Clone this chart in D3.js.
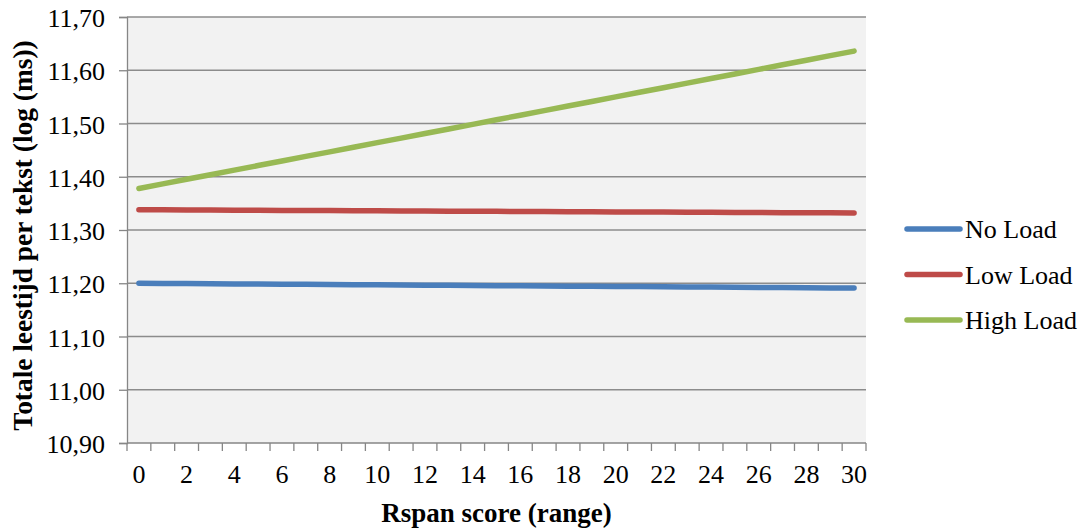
<!DOCTYPE html>
<html>
<head>
<meta charset="utf-8">
<script src="https://cdn.jsdelivr.net/npm/d3@7/dist/d3.min.js"></script>
<style>
  html, body { margin: 0; padding: 0; background: #fff; }
  svg { display: block; }
  text { font-family: "Liberation Serif", "Times New Roman", serif; fill: #000; }
</style>
</head>
<body>
<svg id="chart" width="1083" height="529"></svg>
<script>
// Rspan score categories 0..30
const categories = d3.range(0, 31);
const xTickLabels = [0, 2, 4, 6, 8, 10, 12, 14, 16, 18, 20, 22, 24, 26, 28, 30];
const yTicks = [10.90, 11.00, 11.10, 11.20, 11.30, 11.40, 11.50, 11.60, 11.70];

const noLoad = [11.2000, 11.1997, 11.1994, 11.1991, 11.1988, 11.1985, 11.1982, 11.1979, 11.1976, 11.1973,
  11.1970, 11.1967, 11.1964, 11.1961, 11.1958, 11.1955, 11.1952, 11.1949, 11.1946, 11.1943,
  11.1940, 11.1937, 11.1934, 11.1931, 11.1928, 11.1925, 11.1922, 11.1919, 11.1916, 11.1913, 11.1910];
const lowLoad = [11.3380, 11.3378, 11.3376, 11.3374, 11.3372, 11.3370, 11.3368, 11.3366, 11.3364, 11.3362,
  11.3360, 11.3358, 11.3356, 11.3354, 11.3352, 11.3350, 11.3348, 11.3346, 11.3344, 11.3342,
  11.3340, 11.3338, 11.3336, 11.3334, 11.3332, 11.3330, 11.3328, 11.3326, 11.3324, 11.3322, 11.3320];
const highLoad = [11.3780, 11.3866, 11.3952, 11.4038, 11.4124, 11.4210, 11.4296, 11.4382, 11.4468, 11.4554,
  11.4640, 11.4726, 11.4812, 11.4898, 11.4984, 11.5070, 11.5156, 11.5242, 11.5328, 11.5414,
  11.5500, 11.5586, 11.5672, 11.5758, 11.5844, 11.5930, 11.6016, 11.6102, 11.6188, 11.6274, 11.6360];

const seriesNames = ["No Load", "Low Load", "High Load"];
const seriesColors = ["#4a7ebb", "#be4b48", "#98b954"];
const seriesValues = [noLoad, lowLoad, highLoad];

const svg = d3.select("#chart");
const plot = { left: 127, right: 866, top: 17, bottom: 443 };

const x = d3.scaleBand().domain(categories).range([plot.left, plot.right]).padding(0);
const y = d3.scaleLinear().domain([10.90, 11.70]).range([plot.bottom, plot.top]);

// plot background
svg.append("rect")
  .attr("x", plot.left).attr("y", plot.top)
  .attr("width", plot.right - plot.left).attr("height", plot.bottom - plot.top)
  .attr("fill", "#f2f2f2");

// horizontal gridlines
svg.append("g").selectAll("line").data(yTicks.slice(1)).join("line")
  .attr("x1", plot.left).attr("x2", plot.right)
  .attr("y1", d => y(d)).attr("y2", d => y(d))
  .attr("stroke", "#8c8c8c").attr("stroke-width", 1.3);

// y axis
const fmt = d => d3.format(".2f")(d).replace(".", ",");
const yAxis = svg.append("g")
  .attr("transform", `translate(${plot.left},0)`)
  .attr("font-family", null)
  .call(d3.axisLeft(y).tickValues(yTicks).tickFormat(fmt).tickSize(8).tickPadding(14));
yAxis.attr("font-family", null).attr("font-size", null);
yAxis.select(".domain").attr("stroke", "#868686").attr("stroke-width", 1.3);
yAxis.selectAll(".tick line").attr("stroke", "#868686").attr("stroke-width", 1.3);
yAxis.selectAll(".tick text").style("font-size", "26px").attr("dy", "0.37em").attr("fill", "#000");

// x axis: ticks on category boundaries, labels every other category
const xAxisG = svg.append("g").attr("transform", `translate(0,${plot.bottom})`);
xAxisG.append("line")
  .attr("x1", plot.left).attr("x2", plot.right)
  .attr("stroke", "#868686").attr("stroke-width", 1.3);
const boundaries = categories.map(c => x(c)).concat([x(30) + x.bandwidth()]);
xAxisG.selectAll("line.tk").data(boundaries).join("line").attr("class", "tk")
  .attr("x1", d => d).attr("x2", d => d).attr("y1", 0).attr("y2", 8)
  .attr("stroke", "#868686").attr("stroke-width", 1.3);
xAxisG.selectAll("text").data(xTickLabels).join("text")
  .attr("x", d => x(d) + x.bandwidth() / 2)
  .attr("y", 40)
  .attr("text-anchor", "middle")
  .style("font-size", "26px")
  .text(d => d);

// series lines
const line = d3.line()
  .x((d, i) => x(categories[i]) + x.bandwidth() / 2)
  .y(d => y(d));
svg.append("g").selectAll("path").data(seriesValues).join("path")
  .attr("d", d => line(d))
  .attr("fill", "none")
  .attr("stroke", (d, i) => seriesColors[i])
  .attr("stroke-width", 5.5)
  .attr("stroke-linecap", "round");

// axis titles
svg.append("text")
  .attr("x", (plot.left + plot.right) / 2).attr("y", 522)
  .attr("text-anchor", "middle")
  .style("font-size", "27px").style("font-weight", "bold")
  .text("Rspan score (range)");
svg.append("text")
  .attr("transform", `translate(32,235.5) rotate(-90)`)
  .attr("text-anchor", "middle")
  .style("font-size", "27.4px").style("font-weight", "bold")
  .text("Totale leestijd per tekst (log (ms))");

// legend
const legend = svg.append("g").attr("transform", "translate(907,229)");
const rows = legend.selectAll("g").data(seriesNames).join("g")
  .attr("transform", (d, i) => `translate(0,${i * 45.5})`);
rows.append("line").attr("x1", 0).attr("x2", 53)
  .attr("stroke", (d, i) => seriesColors[i]).attr("stroke-width", 5.5)
  .attr("stroke-linecap", "round");
rows.append("text").attr("x", 58).attr("y", 0).attr("dy", "0.35em")
  .style("font-size", "26px").text(d => d);
</script>
</body>
</html>
